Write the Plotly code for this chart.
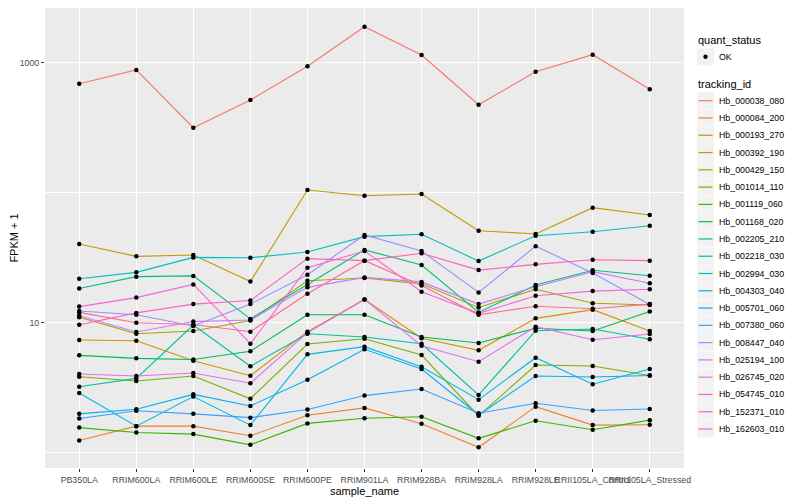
import plotly.graph_objects as go
import math

samples = ["PB350LA", "RRIM600LA", "RRIM600LE", "RRIM600SE", "RRIM600PE", "RRIM901LA",
           "RRIM928BA", "RRIM928LA", "RRIM928LE", "RRII105LA_Control", "RRII105LA_Stressed"]

tracking_ids = ["Hb_000038_080", "Hb_000084_200", "Hb_000193_270", "Hb_000392_190",
                "Hb_000429_150", "Hb_001014_110", "Hb_001119_060", "Hb_001168_020",
                "Hb_002205_210", "Hb_002218_030", "Hb_002994_030", "Hb_004303_040",
                "Hb_005701_060", "Hb_007380_060", "Hb_008447_040", "Hb_025194_100",
                "Hb_026745_020", "Hb_054745_010", "Hb_152371_010", "Hb_162603_010"]

quant_status = ["OK"]

# FPKM + 1 values per sample
hb_000038_080 = [689, 879, 316, 516, 938, 1892, 1146, 475, 853, 1152, 624]
hb_000084_200 = [1.24, 1.60, 1.60, 1.35, 1.94, 2.21, 1.67, 1.10, 2.26, 1.63, 1.64]
hb_000193_270 = [7.36, 7.27, 5.10, 3.91, 8.53, 15.1, 7.59, 6.13, 10.8, 12.6, 8.63]
hb_000392_190 = [40.3, 32.4, 33.2, 20.7, 104.9, 94.8, 97.7, 51.0, 48.1, 76.7, 67.4]
hb_000429_150 = [11.0, 8.23, 8.63, 10.4, 21.0, 22.1, 19.9, 13.1, 18.1, 14.1, 13.7]
hb_001014_110 = [3.84, 3.56, 3.89, 2.60, 6.86, 7.53, 5.64, 1.92, 4.73, 4.64, 3.93]
hb_001119_060 = [1.56, 1.43, 1.39, 1.15, 1.68, 1.84, 1.89, 1.29, 1.76, 1.50, 1.78]
hb_001168_020 = [5.61, 5.32, 5.21, 6.03, 11.5, 11.5, 7.76, 6.98, 9.06, 8.63, 12.2]
hb_002205_210 = [18.3, 22.6, 22.9, 10.7, 19.7, 36.3, 27.8, 12.0, 19.5, 25.3, 23.0]
hb_002218_030 = [3.22, 3.73, 9.60, 4.62, 8.23, 7.76, 6.89, 2.78, 8.68, 8.94, 7.45]
hb_002994_030 = [21.8, 24.4, 31.8, 31.6, 35.0, 45.9, 47.9, 29.8, 46.7, 50.1, 55.7]
hb_004303_040 = [2.88, 1.60, 2.70, 1.63, 5.71, 6.54, 4.59, 2.56, 5.38, 3.36, 4.40]
hb_005701_060 = [1.99, 2.16, 2.81, 2.29, 3.64, 6.24, 4.40, 1.95, 3.89, 3.82, 3.93]
hb_007380_060 = [1.83, 2.10, 1.99, 1.86, 2.15, 2.75, 3.09, 2.01, 2.40, 2.11, 2.17]
hb_008447_040 = [12.3, 11.5, 9.43, 13.9, 23.4, 47.3, 35.6, 17.1, 38.8, 24.1, 13.8]
hb_025194_100 = [11.3, 8.48, 10.2, 10.5, 18.7, 22.3, 20.6, 13.9, 18.9, 24.7, 20.1]
hb_026745_020 = [4.03, 3.89, 4.10, 3.42, 8.38, 15.1, 6.65, 5.01, 9.32, 7.40, 8.19]
hb_054745_010 = [13.3, 15.6, 19.7, 6.89, 26.5, 35.6, 17.3, 11.8, 16.1, 17.5, 18.1]
hb_152371_010 = [9.65, 11.9, 13.9, 14.8, 31.1, 30.0, 34.2, 25.4, 28.1, 30.5, 30.0]
hb_162603_010 = [12.0, 10.0, 9.68, 8.53, 16.7, 30.0, 19.3, 11.5, 13.4, 12.8, 13.9]

series = [hb_000038_080, hb_000084_200, hb_000193_270, hb_000392_190, hb_000429_150,
          hb_001014_110, hb_001119_060, hb_001168_020, hb_002205_210, hb_002218_030,
          hb_002994_030, hb_004303_040, hb_005701_060, hb_007380_060, hb_008447_040,
          hb_025194_100, hb_026745_020, hb_054745_010, hb_152371_010, hb_162603_010]


def hcl_hex(h, c=100.0, l=65.0):
    # polar LUV -> sRGB (as the ggplot2 hue palette)
    hr = math.radians(h)
    u = c * math.cos(hr)
    v = c * math.sin(hr)
    Y = ((l + 16) / 116) ** 3 if l > 8 else l / 903.3
    un, vn = 0.19784, 0.46832
    up = u / (13 * l) + un
    vp = v / (13 * l) + vn
    X = Y * 9 * up / (4 * vp)
    Z = Y * (12 - 3 * up - 20 * vp) / (4 * vp)
    r = 3.2404542 * X - 1.5371385 * Y - 0.4985314 * Z
    g = -0.9692660 * X + 1.8760108 * Y + 0.0415560 * Z
    b = 0.0556434 * X - 0.2040259 * Y + 1.0572252 * Z

    def gam(x):
        x = 12.92 * x if x <= 0.0031308 else 1.055 * x ** (1 / 2.4) - 0.055
        return max(0, min(255, round(x * 255)))
    return "#%02X%02X%02X" % (gam(r), gam(g), gam(b))


n = len(tracking_ids)
colors = [hcl_hex(15 + 360 * i / n) for i in range(n)]

# page body has an 8px margin: size the figure to the visible window
OFF = 8
W, H = 800 - OFF, 500 - OFF
ML, MR, MT, MB = 37, 116, 0, 32
PW, PH = W - ML - MR, H - MT - MB


def px(xs):
    # screen x -> paper x
    return (xs - OFF - ML) / PW


def py(ys):
    # screen y -> paper y
    return (H - MB - (ys - OFF)) / PH


fig = go.Figure()
for tid, vals, col in zip(tracking_ids, series, colors):
    fig.add_trace(go.Scatter(
        x=samples, y=vals, mode="lines", name=tid,
        line=dict(color=col, width=1.1), hoverinfo="skip", showlegend=False))

all_x = [s for vals in series for s in samples]
all_y = [v for vals in series for v in vals]
fig.add_trace(go.Scatter(
    x=all_x, y=all_y, mode="markers", name=quant_status[0],
    marker=dict(color="black", size=4.5), hoverinfo="skip", showlegend=False))

font_family = "Liberation Sans, Arial, sans-serif"

# ---- ggplot-style legends drawn beside the panel ----
shapes = []
annotations = []
key_x0, key_x1 = 697, 714
text_x = 717

annotations.append(dict(text="quant_status", x=px(696), y=py(40.5), xref="paper", yref="paper",
                        xanchor="left", yanchor="middle", showarrow=False,
                        font=dict(size=11, color="black")))
shapes.append(dict(type="rect", xref="paper", yref="paper", x0=px(key_x0), x1=px(key_x1),
                   y0=py(48.3), y1=py(65.3), fillcolor="#F2F2F2", line=dict(width=0), layer="below"))
shapes.append(dict(type="circle", xref="paper", yref="paper",
                   x0=px(703.3), x1=px(707.7), y0=py(54.6), y1=py(59.0),
                   fillcolor="black", line=dict(width=0)))
annotations.append(dict(text=quant_status[0], x=px(text_x), y=py(56.8), xref="paper", yref="paper",
                        xanchor="left", yanchor="middle", showarrow=False,
                        font=dict(size=8.8, color="black")))

annotations.append(dict(text="tracking_id", x=px(696), y=py(84.3), xref="paper", yref="paper",
                        xanchor="left", yanchor="middle", showarrow=False,
                        font=dict(size=11, color="black")))
step = 17.28
for i, (tid, col) in enumerate(zip(tracking_ids, colors)):
    yc = 100.7 + i * step
    shapes.append(dict(type="rect", xref="paper", yref="paper", x0=px(key_x0), x1=px(key_x1),
                       y0=py(yc - 8.4), y1=py(yc + 8.4), fillcolor="#F2F2F2",
                       line=dict(width=0), layer="below"))
    shapes.append(dict(type="line", xref="paper", yref="paper", x0=px(698.5), x1=px(712.5),
                       y0=py(yc), y1=py(yc), line=dict(color=col, width=1.2)))
    annotations.append(dict(text=tid, x=px(text_x), y=py(yc), xref="paper", yref="paper",
                            xanchor="left", yanchor="middle", showarrow=False,
                            font=dict(size=8.8, color="black")))

# log10 range: gridline 1000 at screen y 62.7, 10 at 322.7, panel from y 8 to 468
y_top = 1 + (322.7 - 8) / 130
y_bot = 1 + (322.7 - 468) / 130

fig.update_layout(
    width=W, height=H,
    margin=dict(l=ML, r=MR, t=MT, b=MB),
    paper_bgcolor="white",
    plot_bgcolor="#EBEBEB",
    showlegend=False,
    font=dict(family=font_family, color="#000000", size=11),
    shapes=shapes,
    annotations=annotations,
    xaxis=dict(
        type="category", range=[-0.6, 10.6],
        showgrid=True, gridcolor="white", gridwidth=1.1,
        ticks="outside", ticklen=3, tickcolor="#333333", tickwidth=1,
        tickangle=0, automargin=False,
        tickfont=dict(size=8.8, color="#4D4D4D"),
        title=dict(text="sample_name", font=dict(size=11), standoff=0),
        zeroline=False, showline=False,
    ),
    yaxis=dict(
        type="log", range=[y_bot, y_top],
        tickvals=[10, 1000], ticktext=["10", "1000"],
        showgrid=True, gridcolor="white", gridwidth=1.1,
        minor=dict(tickvals=[1, 100], showgrid=True, gridcolor="white",
                   gridwidth=0.55, ticks=""),
        ticks="outside", ticklen=3, tickcolor="#333333", tickwidth=1,
        automargin=False,
        tickfont=dict(size=8.8, color="#4D4D4D"),
        title=dict(text="FPKM + 1", font=dict(size=11), standoff=6),
        zeroline=False, showline=False,
    ),
)

fig.write_html("out.html")
